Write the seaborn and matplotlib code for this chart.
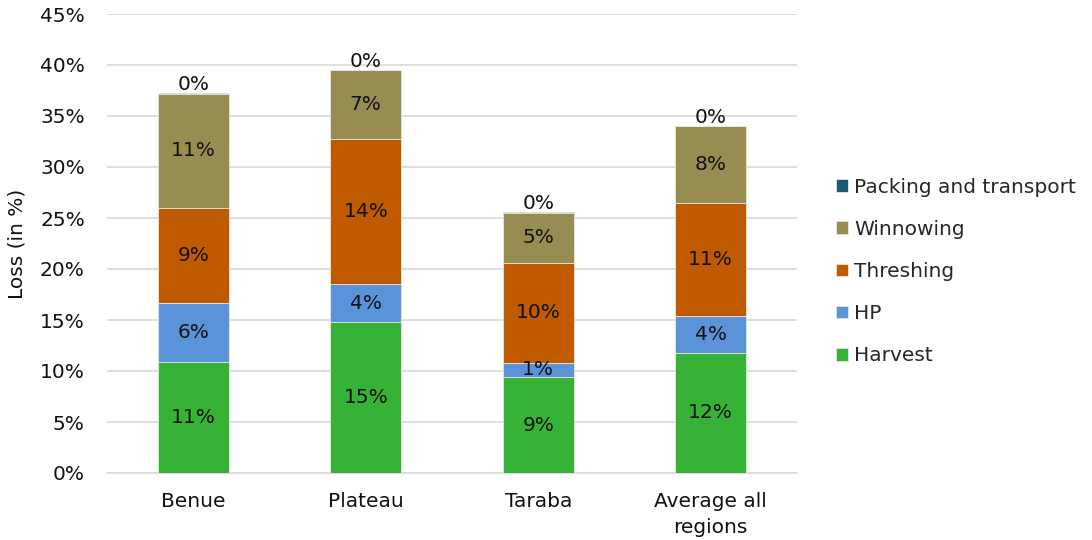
import matplotlib
matplotlib.use("Agg")
import matplotlib.pyplot as plt
import seaborn as sns
import numpy as np
import pandas as pd
from matplotlib.ticker import PercentFormatter

categories = ["Benue", "Plateau", "Taraba", "Average all\nregions"]
harvest = [10.9, 14.8, 9.4, 11.8]
hp = [5.8, 3.7, 1.4, 3.6]
threshing = [9.3, 14.2, 9.8, 11.1]
winnowing = [11.2, 6.8, 4.9, 7.5]
packing = [0.05, 0.05, 0.05, 0.05]

series_names = ["Harvest", "HP", "Threshing", "Winnowing", "Packing and transport"]
series_vals = [harvest, hp, threshing, winnowing, packing]
colors = ["#36B336", "#5B93D8", "#C05A00", "#978D53", "#1A5A78"]

sns.set_theme(style="white")
plt.rcParams['font.family'] = ['DejaVu Sans']
FS = 14.5

fig = plt.figure(figsize=(10.92, 5.40), dpi=100)
ax = fig.add_axes([107/1092, 67/540, 690/1092, 459/540])

df = pd.DataFrame({"category": categories})
bottom = np.zeros(len(categories))
handles = []
for name, vals, col in zip(series_names, series_vals, colors):
    vals = np.array(vals)
    df["value"] = vals
    df["bottom"] = bottom
    bars = ax.bar(df["category"], df["value"], bottom=df["bottom"], width=0.41,
                  color=col, edgecolor="#E8E8E0", linewidth=0.6, label=name, zorder=3)
    handles.append(bars)
    for i, (v, b) in enumerate(zip(vals, bottom)):
        if name == "Packing and transport":
            ax.text(i, b + v - 0.1, "0%", ha="center", va="bottom", fontsize=FS, color="#111111", zorder=4)
        else:
            ax.text(i, b + v / 2, f"{round(v):.0f}%", ha="center", va="center", fontsize=FS,
                    color="#111111", zorder=4)
    bottom = bottom + vals

ax.set_ylim(0, 45)
ax.set_xlim(-0.5, 3.5)
ax.set_yticks(np.arange(0, 46, 5))
ax.yaxis.set_major_formatter(PercentFormatter(decimals=0))
ax.grid(axis="y", color="#D9D9D9", linewidth=1.2, zorder=0)
for s in ["top", "right", "left"]:
    ax.spines[s].set_visible(False)
ax.spines["bottom"].set_color("#D9D9D9")
ax.spines["bottom"].set_linewidth(1.2)
ax.tick_params(axis="y", labelsize=FS, colors="#111111", length=0, pad=16)
ax.tick_params(axis="x", labelsize=FS, colors="#111111", length=0, pad=14)
for lbl in ax.get_xticklabels():
    lbl.set_linespacing(1.45)
ax.set_ylabel("Loss (in %)", fontsize=FS, color="#111111", va="center")
ax.yaxis.set_label_coords(-0.130, 0.5)

leg = ax.legend(handles=handles[::-1], labels=series_names[::-1], loc="center left",
                bbox_to_anchor=(1.03, 0.439), frameon=False, fontsize=FS,
                handlelength=0.6, handleheight=0.6, handletextpad=0.3, labelspacing=1.15)

fig.savefig("out.png", dpi=100)
